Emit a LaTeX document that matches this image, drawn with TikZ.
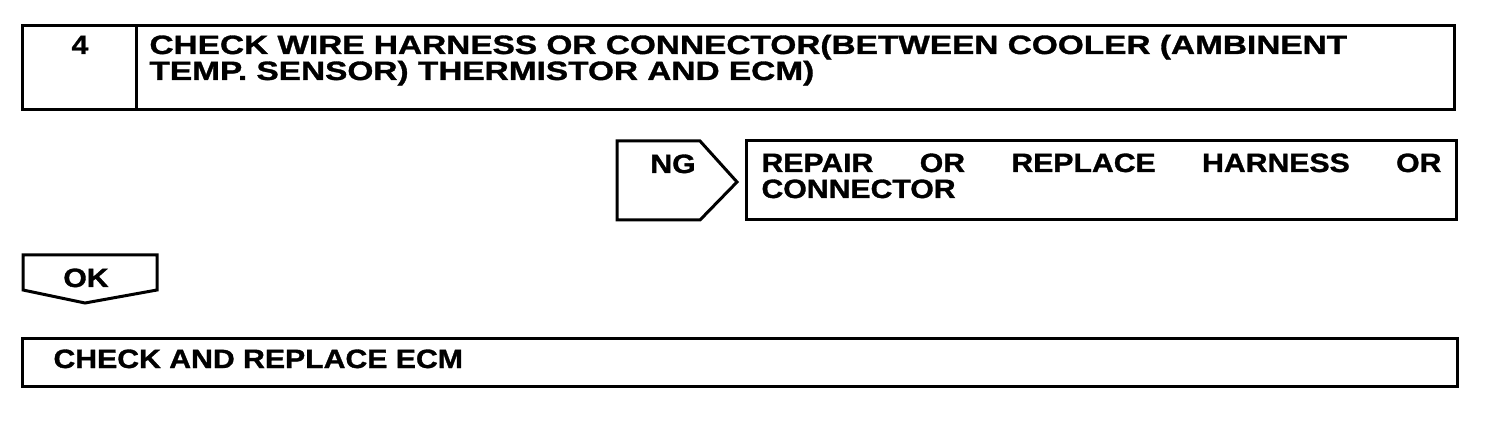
\documentclass[tikz,border=0pt]{standalone}
\usepackage{fontspec}
\setmainfont{Liberation Sans}
\newfontfamily\headfont{Liberation Sans}[FakeStretch=1.26, FakeBold=1.2]
\newfontfamily\boxfont{Liberation Sans}[FakeStretch=1.14, FakeBold=1.2]
\usetikzlibrary{positioning}

\begin{document}
\begin{tikzpicture}[x=1pt, y=-1pt, line width=3pt,
  frame/.style={draw, line width=3pt, inner sep=0pt, anchor=north west},
  label/.style={font=\boxfont\bfseries\fontsize{26.5}{26}\selectfont, inner sep=0pt},
  headlabel/.style={font=\headfont\bfseries\fontsize{26.5}{26}\selectfont, inner sep=0pt}]
\useasboundingbox (0,0) rectangle (1504,430);

% step 4
\node[frame, minimum width=114pt, minimum height=84pt] (stepnum) at (21,24) {};
\node[frame, minimum width=1318pt, minimum height=84pt] (step) at (135,24) {};
\node[label, anchor=base] (four) at (80,54) {4};
\node[headlabel, anchor=base west, align=left] (steptxt) at (148,80)
  {CHECK WIRE HARNESS OR CONNECTOR(BETWEEN COOLER (AMBINENT\\TEMP. SENSOR) THERMISTOR AND ECM)};

% NG branch
\draw (617,141) coordinate (ng) -- (700,141) -- (737,182) coordinate (ngtip) -- (700,220) -- (617,220) -- cycle;
\node[label, anchor=base] (ngtxt) at (673,173) {NG};
\node[frame, minimum width=710pt, minimum height=79pt] (repair) at (745,139) {};
\node[label, anchor=base west, text width=680pt, align=justify] (repairtxt) at (760,172)
  {REPAIR OR REPLACE HARNESS OR \mbox{CONNECTOR}};

% OK branch
\draw (23,255) coordinate (ok) -- (157,255) -- (157,290) -- (85,303) coordinate (oktip) -- (23,290) -- cycle;
\node[label, anchor=base] (oktxt) at (86,287) {OK};
\node[frame, minimum width=1435pt, minimum height=48pt] (ecm) at (21,337) {};
\node[label, anchor=base west] (ecmtxt) at (52,368) {CHECK AND REPLACE ECM};
\end{tikzpicture}
\end{document}
